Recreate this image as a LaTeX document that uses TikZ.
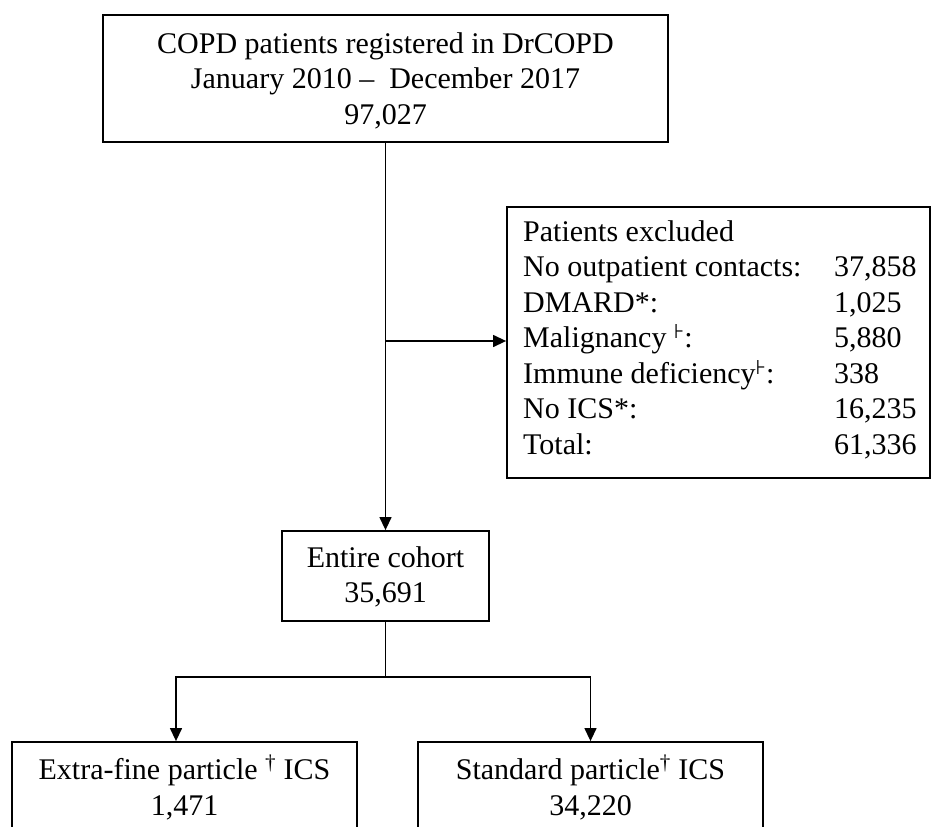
\documentclass[tikz,border=0pt]{standalone}
\usepackage{fontspec}
\setmainfont{Liberation Serif}
\newfontfamily\symfont{DejaVu Sans}
\usetikzlibrary{arrows.meta}
\newcommand\myturn{\raisebox{9pt}{\symfont\fontsize{20}{20}\selectfont ⊦}}
\begin{document}
\begin{tikzpicture}[x=1pt,y=-1pt,
  box/.style={draw=black, line width=1.8pt, inner sep=0pt},
  txt/.style={font=\fontsize{30}{35.5}\selectfont, inner sep=0pt},
  conn/.style={line width=1.3pt},
  arr/.style={conn, -{Triangle[length=13pt,width=12pt]}}]
\useasboundingbox (0,0) rectangle (932,827);
\clip (0,0) rectangle (932,827);
\fill[white] (0,0) rectangle (932,827);

% top box
\node[box, minimum width=565pt, minimum height=127pt] (top) at (385.5,78.5) {};
\node[txt, anchor=base] (top1) at (385.5,53) {COPD patients registered in DrCOPD};
\node[txt, anchor=base] (top2) at (385.5,88.5) {January 2010 –\enspace December 2017};
\node[txt, anchor=base] (top3) at (385.5,124) {97,027};

% excluded box
\node[box, minimum width=423pt, minimum height=271pt] (excl) at (718.5,342.5) {};
\node[txt, anchor=base west] (excltext) at (523,241) {%
  \begin{tabular}[t]{@{}p{311pt}@{}l@{}}
  Patients excluded & \\
  No outpatient contacts: & 37,858\\
  DMARD*: & 1,025\\
  Malignancy \myturn: & 5,880\\
  Immune deficiency\myturn: & 338\\
  No ICS*: & 16,235\\
  Total: & 61,336
  \end{tabular}};

% entire cohort
\node[box, minimum width=207pt, minimum height=90pt] (cohort) at (385.5,576) {};
\node[txt, anchor=base] (coh1) at (385.5,567) {Entire cohort};
\node[txt, anchor=base] (coh2) at (385.5,602) {35,691};

% bottom boxes
\node[box, minimum width=345pt, minimum height=200pt] (left) at (184.5,842) {};
\node[txt, anchor=base] (left1) at (184.5,779) {Extra-fine particle \textsuperscript{†} ICS};
\node[txt, anchor=base] (left2) at (184.5,815) {1,471};
\node[box, minimum width=345pt, minimum height=200pt] (right) at (590.5,842) {};
\node[txt, anchor=base] (right1) at (590.5,779) {Standard particle\textsuperscript{†} ICS};
\node[txt, anchor=base] (right2) at (590.5,815) {34,220};

% connectors
\coordinate (br) at (385.5,341);
\coordinate (split) at (385.5,677);
\draw[arr] (top.south) -- (cohort.north);
\draw[arr] (br) -- (excl.west |- br);
\draw[conn] (cohort.south) -- (split);
\draw[arr] (split) -| ([xshift=-8.5pt]left.north);
\draw[arr] (split) -| (right.north);
\end{tikzpicture}
\end{document}
